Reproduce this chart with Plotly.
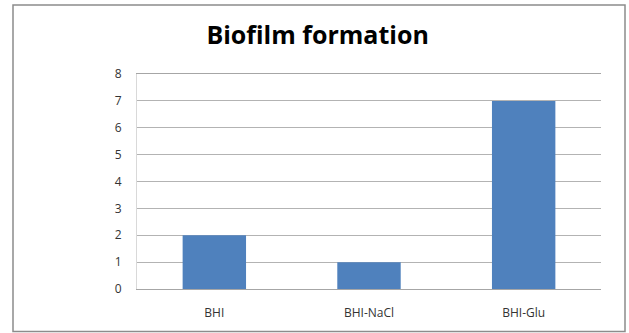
import plotly.graph_objects as go

categories = ["BHI", "BHI-NaCl", "BHI-Glu"]
values = [2, 1, 7]
y_ticks = [0, 1, 2, 3, 4, 5, 6, 7, 8]

W, H = 629, 333
L, R, T, B = 137, 28, 74, 44
pw, ph = W - L - R, H - T - B

def px_x(x):
    return (x - L) / pw

def px_y(y):
    return (H - B - y) / ph

fig = go.Figure()
fig.add_trace(go.Bar(
    x=categories, y=values,
    marker=dict(color="#4F81BD", line=dict(width=0)),
    width=0.41,
))

fig.update_layout(
    width=W, height=H,
    margin=dict(l=L, r=R, t=T, b=B, pad=0),
    paper_bgcolor="white", plot_bgcolor="white",
    showlegend=False,
    title=dict(text="<b>Biofilm formation</b>", x=0.505, xanchor="center",
               y=1 - 35 / H, yanchor="middle",
               font=dict(family="Open Sans, Liberation Sans, sans-serif", size=25, color="#000000")),
    font=dict(family="Open Sans, Liberation Sans, sans-serif", size=12, color="#333333"),
    xaxis=dict(showgrid=False, showline=True, linecolor="#a6a6a6", linewidth=1, mirror=True,
               ticks="", tickfont=dict(size=12, color="#333333"), ticklabelstandoff=13),
    yaxis=dict(range=[0, 8], tickvals=y_ticks, showgrid=True, gridcolor="#b3b3b3",
               gridwidth=1, zeroline=False, showline=True, linecolor="#d9d9d9",
               ticks="", tickfont=dict(size=12, color="#333333"), ticklabelstandoff=12),
    shapes=[dict(type="rect", xref="paper", yref="paper",
                 x0=px_x(13), x1=px_x(625), y0=px_y(331.5), y1=px_y(5),
                 line=dict(color="#8c8c8c", width=1.5), fillcolor="rgba(0,0,0,0)")],
)

fig.write_html("out.html")
